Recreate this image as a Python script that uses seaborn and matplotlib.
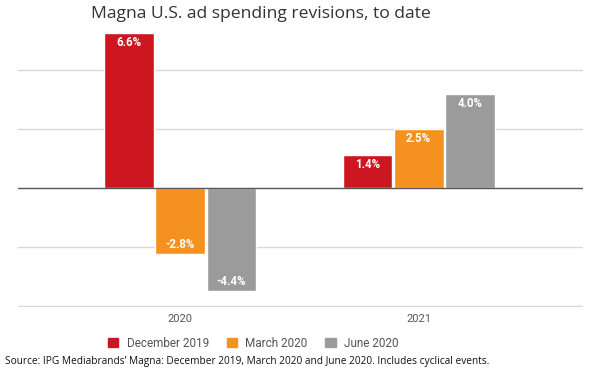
import pandas as pd
import numpy as np
import seaborn as sns
import matplotlib.pyplot as plt
from matplotlib.patches import Patch

sns.set_style("white")
plt.rcParams['font.family'] = ['Roboto', 'DejaVu Sans']

years = ['2020', '2021']
editions = ['December 2019', 'March 2020', 'June 2020']
dec_2019 = [6.6, 1.4]
mar_2020 = [-2.8, 2.5]
jun_2020 = [-4.4, 4.0]
colors = ['#CD1720', '#F5921F', '#9B9B9B']

df = pd.DataFrame({
    'year': years * 3,
    'edition': np.repeat(editions, len(years)),
    'value': dec_2019 + mar_2020 + jun_2020,
})

fig = plt.figure(figsize=(6, 3.75), dpi=100)
ax = fig.add_axes([0.03, 0.182, 0.942, 0.746])

sns.barplot(data=df, x='year', y='value', hue='edition', hue_order=editions,
            palette=colors, width=0.645, gap=0.03, legend=False, ax=ax,
            saturation=1, zorder=3)

for c in ax.containers:
    ax.bar_label(c, fmt='%.1f%%', padding=-11.5, color='white', fontsize=8.3,
                 fontweight='semibold')

ax.set_ylim(-5.05, 6.85)
ax.set_xlim(-0.68, 1.69)
ax.set_yticks([-5, -2.5, 2.5, 5])
ax.yaxis.grid(True, color='#d9d9d9', linewidth=1.0)
ax.axhline(0, color='#555555', linewidth=1.0, zorder=4)
ax.set_yticklabels([])
ax.tick_params(axis='y', length=0)
ax.tick_params(axis='x', length=0, labelsize=8, labelcolor='#555555', pad=5)
ax.set_xlabel('')
ax.set_ylabel('')
for s in ax.spines.values():
    s.set_visible(False)

fig.suptitle('Magna U.S. ad spending revisions, to date', x=0.435, y=0.985,
             fontsize=12.6, color='#333333', family='Open Sans')

handles = [Patch(color=col, label=lab) for col, lab in zip(colors, editions)]
fig.legend(handles=handles, loc='center', bbox_to_anchor=(0.422, 0.085), ncol=3,
           frameon=False, fontsize=8.5, labelcolor='#555555', handlelength=0.9,
           handleheight=0.9, handletextpad=0.7, columnspacing=1.5)

fig.text(0.008, 0.037, 'Source: IPG Mediabrands\u2019 Magna: December 2019, March 2020 and June 2020. Includes cyclical events.',
         fontsize=7.3, color='#111111', family='Open Sans', va='center')

plt.savefig('out.png', dpi=100)
plt.close()
